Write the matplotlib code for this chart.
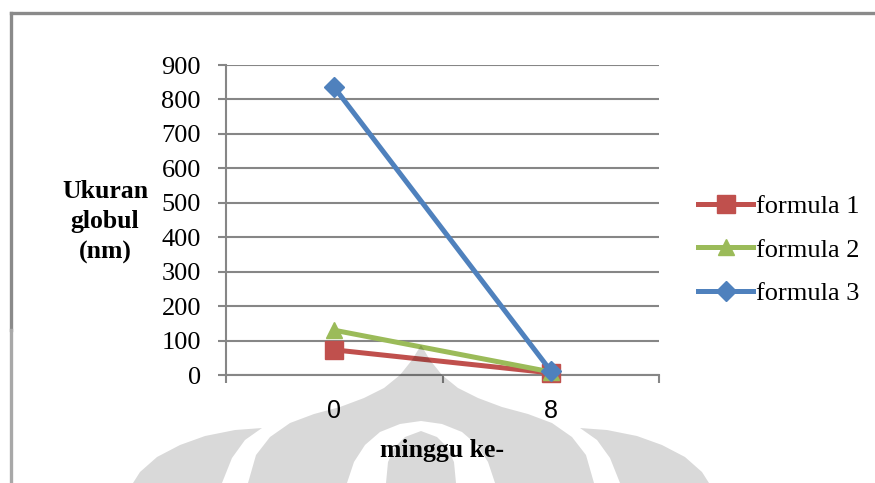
import matplotlib.pyplot as plt
from matplotlib.path import Path
from matplotlib.patches import PathPatch
from matplotlib.lines import Line2D

# data: globule size (nm) at week 0 and week 8
weeks = ['0', '8']
formula_1 = [73, 6]
formula_2 = [130, 9]
formula_3 = [835, 12]
y_ticks = [0, 100, 200, 300, 400, 500, 600, 700, 800, 900]

W, H = 875, 483
fig = plt.figure(figsize=(W / 100, H / 100), dpi=100)
fig.patch.set_facecolor('white')

serif = 'Liberation Serif'
grid_col = '#868686'

ax = fig.add_axes([226 / W, 1 - 375 / H, 433 / W, 310 / H])

x_pos = [0.5, 1.5]
ax.plot(x_pos, formula_1, color='#C0504D', lw=3.6, marker='s', ms=13,
        label='formula 1', clip_on=False, zorder=3)
ax.plot(x_pos, formula_2, color='#9BBB59', lw=3.6, marker='^', ms=12,
        label='formula 2', clip_on=False, zorder=4)
ax.plot(x_pos, formula_3, color='#4F81BD', lw=3.6, marker='D', ms=10,
        label='formula 3', clip_on=False, zorder=5)

ax.set_xlim(0, 2)
ax.set_ylim(0, 900)
ax.set_yticks(y_ticks)
ax.set_yticklabels([str(v) for v in y_ticks], fontfamily=serif, fontsize=19)
ax.yaxis.grid(True, color=grid_col, lw=1.5)
ax.set_axisbelow(True)

# category boundaries get the tick marks, labels sit between them
ax.set_xticks([0, 1, 2])
ax.set_xticklabels(['', '', ''])
ax.set_xticks(x_pos, minor=True)
ax.set_xticklabels(weeks, minor=True, fontfamily='Liberation Sans', fontsize=18)
ax.tick_params(axis='x', which='minor', length=0, pad=17)
ax.tick_params(axis='x', which='major', length=6, width=1.5, color=grid_col,
               direction='out')
ax.tick_params(axis='y', length=6, width=1.5, color=grid_col, pad=12)

for s in ['top', 'right']:
    ax.spines[s].set_visible(False)
for s in ['left', 'bottom']:
    ax.spines[s].set_color(grid_col)
    ax.spines[s].set_linewidth(1.5)

ax.set_ylabel('Ukuran\nglobul\n(nm)', rotation=0, fontfamily=serif,
              fontsize=18.5, fontweight='bold', ha='center', va='center',
              linespacing=1.4)
ax.yaxis.set_label_coords(-0.2794, 0.4935)
ax.set_xlabel('minggu ke-', fontfamily=serif, fontsize=18.5,
              fontweight='bold', va='center')
ax.xaxis.set_label_coords(0.5, -0.242)

leg = ax.legend(loc='center left', bbox_to_anchor=(698 / W, 1 - 250 / H),
                bbox_transform=fig.transFigure, frameon=False,
                prop={'family': serif, 'size': 19}, handlelength=2.1,
                handletextpad=0.1, labelspacing=0.75, borderpad=0,
                borderaxespad=0)


def px(pts):
    return [(x / W, 1 - y / H) for x, y in pts]


def mirror(pts, cx=421):
    return [(2 * cx - x, y) for x, y in reversed(pts)]


# outer frame
fig.add_artist(Line2D([11 / W, 1], [1 - 13 / H] * 2, color='#8a8a8a', lw=2.4))
fig.add_artist(Line2D([11 / W] * 2, [1 - 13 / H, 1 - 330 / H], color='#8a8a8a', lw=2.4))
fig.add_artist(Line2D([11 / W] * 2, [1 - 330 / H, 0], color='#a8a8a8', lw=2.4))

# faint logo in the background
dome = [(421, 345), (412, 360), (400, 375), (384, 388), (364, 398),
        (340, 407), (314, 414), (290, 423), (270, 437), (256, 455),
        (248, 483), (248, 500)]
dome = dome + mirror(dome)[1:]
arch = [(421, 421), (400, 424), (380, 432), (365, 445), (354, 462),
        (347, 483), (347, 500)]
arch = arch + mirror(arch)[1:]
pillar = [(421, 431), (405, 437), (395, 447), (388, 462), (386, 483),
          (386, 500)]
pillar = pillar + mirror(pillar)[1:]
petal = [(262, 428), (235, 430), (205, 436), (180, 445), (157, 457),
         (140, 472), (133, 483), (130, 500), (218, 500), (222, 483),
         (232, 458), (245, 440)]
petal_r = [(842 - x, y) for x, y in petal]

outer = px(dome)
hole = px(arch)[::-1]
verts = outer + [outer[0]] + hole + [hole[0]]
codes = ([Path.MOVETO] + [Path.LINETO] * (len(outer) - 1) + [Path.CLOSEPOLY] +
         [Path.MOVETO] + [Path.LINETO] * (len(hole) - 1) + [Path.CLOSEPOLY])
shapes = [Path(verts, codes)]
for poly in (pillar, petal, petal_r):
    p = px(poly)
    shapes.append(Path(p + [p[0]], [Path.MOVETO] + [Path.LINETO] * (len(p) - 1) + [Path.CLOSEPOLY]))
for shp in shapes:
    fig.add_artist(PathPatch(shp, transform=fig.transFigure, facecolor='black',
                             edgecolor='none', alpha=0.15, zorder=10))

fig.savefig('out.png', dpi=100)
